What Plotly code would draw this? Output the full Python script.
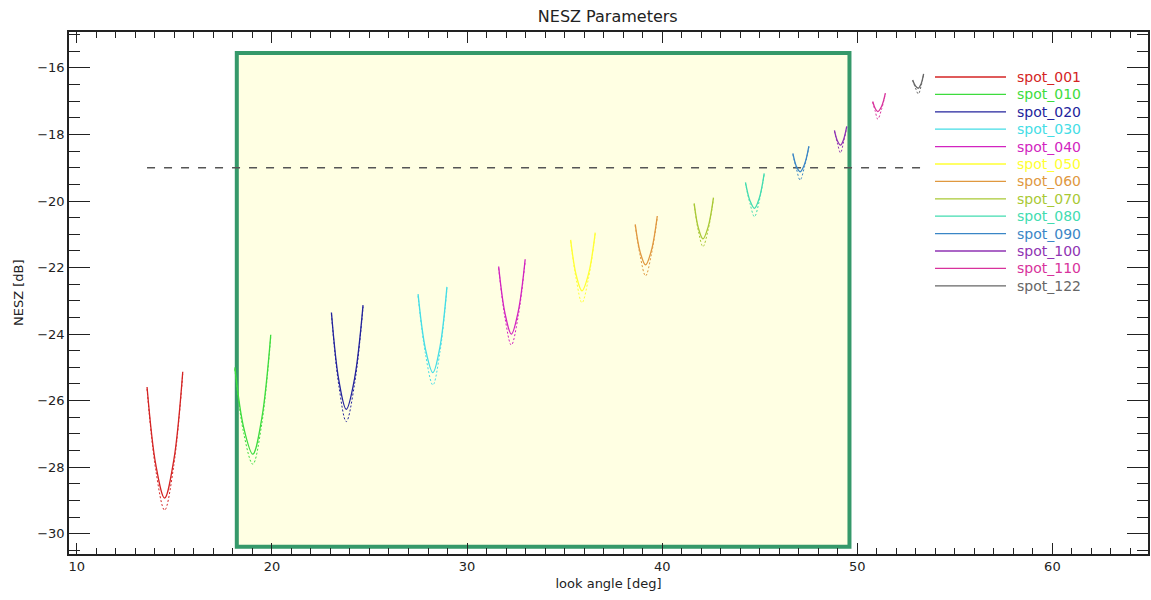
import plotly.graph_objects as go

# ---- data ----
spot_names = ["spot_001", "spot_010", "spot_020", "spot_030", "spot_040", "spot_050",
              "spot_060", "spot_070", "spot_080", "spot_090", "spot_100", "spot_110", "spot_122"]

spot_colors = ["#d42424", "#3ddc3d", "#23239c", "#45dde6", "#d224c0", "#ffff33",
               "#e0983f", "#a9c935", "#42dcb0", "#3a86c6", "#8f33b3", "#d8329c", "#666666"]

look_angle = [
    [13.60, 14.05, 14.50, 14.97, 15.43],
    [18.10, 18.56, 19.02, 19.48, 19.94],
    [23.05, 23.43, 23.81, 24.24, 24.67],
    [27.49, 27.87, 28.25, 28.61, 28.97],
    [31.62, 31.95, 32.27, 32.62, 32.98],
    [35.31, 35.60, 35.89, 36.23, 36.57],
    [38.62, 38.88, 39.15, 39.45, 39.75],
    [41.64, 41.86, 42.09, 42.36, 42.63],
    [44.27, 44.50, 44.73, 44.98, 45.23],
    [46.70, 46.88, 47.07, 47.30, 47.52],
    [48.83, 48.98, 49.14, 49.30, 49.46],
    [50.79, 50.92, 51.05, 51.25, 51.44],
    [52.84, 52.98, 53.13, 53.27, 53.40],
]

nesz_solid = [
    [-25.59, -27.93, -28.93, -27.79, -25.13],
    [-25.00, -26.83, -27.61, -26.53, -24.02],
    [-23.35, -25.39, -26.26, -25.32, -23.13],
    [-22.80, -24.45, -25.16, -24.39, -22.58],
    [-21.97, -23.39, -24.00, -23.33, -21.75],
    [-21.17, -22.24, -22.70, -22.18, -20.95],
    [-20.70, -21.55, -21.92, -21.48, -20.45],
    [-20.07, -20.82, -21.14, -20.77, -19.90],
    [-19.44, -19.99, -20.22, -19.91, -19.17],
    [-18.57, -18.96, -19.12, -18.89, -18.35],
    [-17.88, -18.19, -18.32, -18.15, -17.76],
    [-17.01, -17.22, -17.31, -17.15, -16.76],
    [-16.36, -16.54, -16.61, -16.48, -16.18],
]

nesz_dashed = [
    [-25.65, -28.10, -29.29, -27.95, -25.20],
    [-25.05, -27.00, -27.91, -26.70, -24.08],
    [-23.40, -25.55, -26.63, -25.48, -23.18],
    [-22.85, -24.60, -25.53, -24.55, -22.63],
    [-22.02, -23.53, -24.33, -23.47, -21.80],
    [-21.21, -22.37, -23.06, -22.31, -20.99],
    [-20.74, -21.67, -22.25, -21.60, -20.49],
    [-20.10, -20.91, -21.37, -20.86, -19.93],
    [-19.47, -20.07, -20.47, -19.99, -19.20],
    [-18.60, -19.03, -19.37, -18.96, -18.38],
    [-17.90, -18.26, -18.55, -18.22, -17.78],
    [-17.03, -17.30, -17.54, -17.23, -16.78],
    [-16.38, -16.60, -16.78, -16.55, -16.20],
]

threshold_db = -19.0
threshold_x = [13.6, 53.3]

box_x = [18.2, 49.6]
box_y = [-30.39, -15.55]

x_ticks = [10, 20, 30, 40, 50, 60]
y_ticks = [-16, -18, -20, -22, -24, -26, -28, -30]

FONT = "DejaVu Sans"
AX = "#222222"
W, H = 1151, 600
ML, MR, MT, MB = 69, 3, 32, 46
PW, PH = W - ML - MR, H - MT - MB


def px_to_paper_x(px):
    return (px - ML) / PW


def px_to_paper_y(py):
    return 1 - (py - MT) / PH


fig = go.Figure()

# highlighted region
fig.add_shape(type="rect", xref="x", yref="y",
              x0=box_x[0], x1=box_x[1], y0=box_y[0], y1=box_y[1],
              fillcolor="#ffffe3", line=dict(color="#35996a", width=4), layer="below")

# threshold line
fig.add_trace(go.Scatter(x=threshold_x, y=[threshold_db, threshold_db], mode="lines",
                         line=dict(color="#555555", width=1.3, dash="8px,9px"),
                         showlegend=False, hoverinfo="skip"))

for name, col, xs, ys, yd in zip(spot_names, spot_colors, look_angle, nesz_solid, nesz_dashed):
    fig.add_trace(go.Scatter(x=xs, y=yd, mode="lines", name=name,
                             line=dict(color=col, width=1, dash="2px,2px", shape="spline"),
                             showlegend=False, hoverinfo="skip"))
    fig.add_trace(go.Scatter(x=xs, y=ys, mode="lines", name=name,
                             line=dict(color=col, width=1.3, shape="spline"),
                             showlegend=False))

# legend (IDL style: long line sample, coloured label)
LEG_TOP, LEG_STEP = 77, 17.4
LEG_X0, LEG_X1, LEG_TX = 935, 1006, 1015
for i, (name, col) in enumerate(zip(spot_names, spot_colors)):
    yy = px_to_paper_y(LEG_TOP + LEG_STEP * i)
    fig.add_shape(type="line", xref="paper", yref="paper",
                  x0=px_to_paper_x(LEG_X0), x1=px_to_paper_x(LEG_X1), y0=yy, y1=yy,
                  line=dict(color=col, width=1.3))
    fig.add_annotation(xref="paper", yref="paper", x=px_to_paper_x(LEG_TX), y=yy,
                       xanchor="left", yanchor="middle", text=name, showarrow=False,
                       font=dict(family=FONT, size=14, color=col))

# y-axis title placed like the IDL original
fig.add_annotation(xref="paper", yref="paper", x=px_to_paper_x(18), y=0.5,
                   xanchor="center", yanchor="middle", textangle=-90,
                   text="NESZ [dB]", showarrow=False,
                   font=dict(family=FONT, size=13, color=AX))

fig.update_layout(
    width=W, height=H, autosize=False,
    margin=dict(l=ML, r=MR, t=MT, b=MB),
    paper_bgcolor="white", plot_bgcolor="white",
    font=dict(family=FONT, size=13, color=AX),
    title=dict(text="NESZ Parameters", x=0.528, xanchor="center", y=0.973, yanchor="middle",
               font=dict(family=FONT, size=16, color=AX)),
    showlegend=False,
)

fig.update_xaxes(range=[9.6, 64.9], tickvals=x_ticks, ticktext=[str(v) for v in x_ticks],
                 showgrid=False, zeroline=False, showline=True, linecolor=AX, linewidth=1.5,
                 mirror="allticks", ticks="inside", ticklen=11, tickcolor=AX, tickwidth=1.2,
                 minor=dict(ticks="inside", dtick=1, tick0=0, ticklen=6, tickcolor=AX, tickwidth=1.2),
                 automargin=False,
                 title=dict(text="look angle [deg]", standoff=6, font=dict(size=13)))

fig.update_yaxes(range=[-30.61, -14.92], tickvals=y_ticks,
                 ticktext=["\u221216", "\u221218", "\u221220", "\u221222", "\u221224",
                           "\u221226", "\u221228", "\u221230"],
                 showgrid=False, zeroline=False, showline=True, linecolor=AX, linewidth=1.5,
                 mirror="allticks", ticks="inside", ticklen=21, tickcolor=AX, tickwidth=1.2,
                 minor=dict(ticks="inside", dtick=0.5, tick0=0, ticklen=11, tickcolor=AX, tickwidth=1.2),
                 automargin=False)

fig.write_html("out.html",
               config={"displayModeBar": False},
               post_script="document.body.style.margin='0';document.body.style.overflow='hidden';")
